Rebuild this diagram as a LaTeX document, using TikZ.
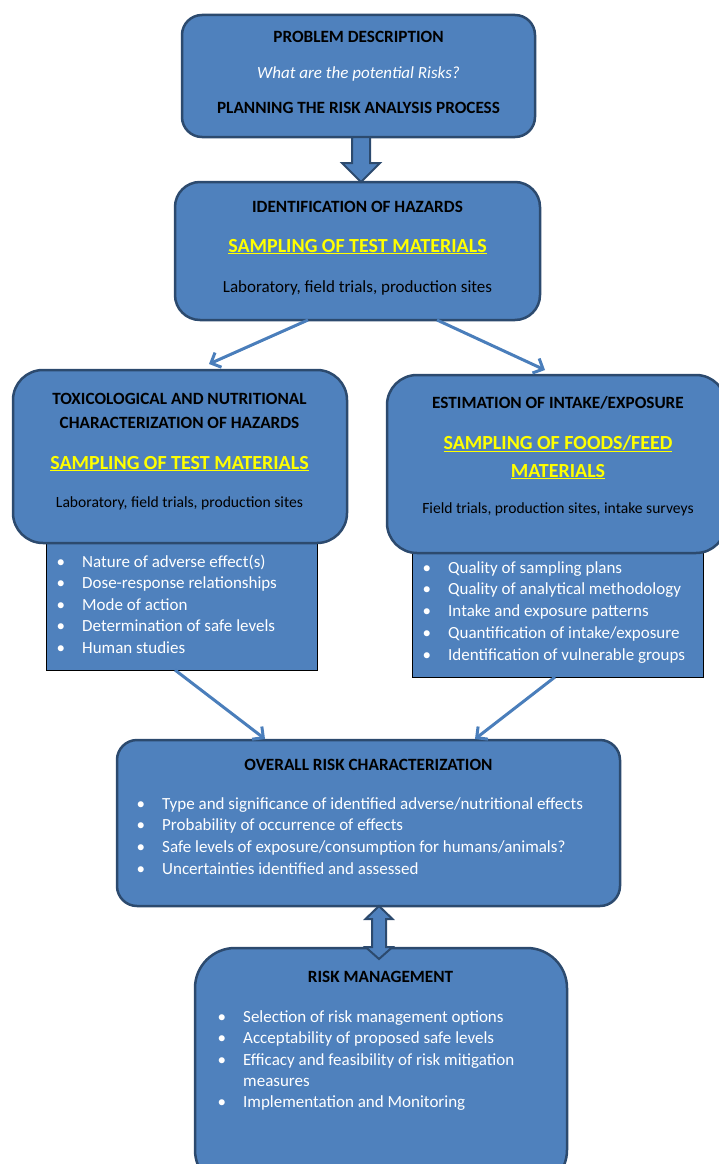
\documentclass[tikz,border=0pt]{standalone}
\usepackage{fontspec}
\setmainfont{Carlito}
\usetikzlibrary{arrows.meta,calc}
\definecolor{boxfill}{HTML}{4F81BD}
\definecolor{boxline}{HTML}{2C4A6E}
\definecolor{arrowc}{HTML}{4A7EBB}
\definecolor{ylw}{HTML}{FFFF00}
\newcommand{\yl}[1]{\underline{#1}}
\begin{document}
\begin{tikzpicture}[x=1pt,y=-1pt,
  rbox/.style={draw=boxline,line width=2.5pt,fill=boxfill,inner sep=0pt,outer sep=0pt},
  lbox/.style={draw=black,line width=1pt,fill=boxfill,inner sep=0pt,outer sep=0pt},
  ttl/.style={inner sep=0pt,anchor=base,font=\fontsize{17.2}{20}\selectfont\bfseries,text=black},
  sub/.style={inner sep=0pt,anchor=base,font=\fontsize{17}{20}\selectfont,text=black},
  hot/.style={inner sep=0pt,anchor=base,font=\fontsize{20}{24}\selectfont\bfseries,text=ylw},
  item/.style={inner sep=0pt,anchor=base west,font=\fontsize{17}{20}\selectfont,text=white},
  flow/.style={draw=arrowc,line width=3pt,-{Straight Barb[length=8pt,width=16pt]}},
  blockarrow/.style={draw=boxline,line width=2pt,fill=boxfill,line join=miter}
]
\useasboundingbox (0,0) rectangle (718,1164);

% list rectangles (behind)
\node[lbox,minimum width=271pt,minimum height=150pt] (l3) at (181.5,595) {};
\node[lbox,minimum width=291pt,minimum height=147pt] (l4) at (557.5,603.5) {};

% rounded boxes
\node[rbox,rounded corners=20pt,minimum width=353pt,minimum height=122pt] (b1) at (358.5,76) {};
\node[rbox,rounded corners=25pt,minimum width=365pt,minimum height=138pt] (b2) at (357.5,251) {};
\node[rbox,rounded corners=30pt,minimum width=334pt,minimum height=173pt] (b3) at (180,456.5) {};
\node[rbox,rounded corners=30pt,minimum width=339pt,minimum height=178pt] (b4) at (556.5,464) {};
\node[rbox,rounded corners=20pt,minimum width=503pt,minimum height=166pt] (b5) at (368.5,823) {};
\node[rbox,rounded corners=40pt,minimum width=372pt,minimum height=242pt] (b6) at (381,1069) {};

% box 1
\node[ttl] (t1a) at (358.5,43) {PROBLEM DESCRIPTION};
\node[sub,text=white,font=\fontsize{17}{20}\selectfont\itshape] (t1b) at (358.5,78) {What are the potential Risks?};
\node[ttl] (t1c) at (358.5,113) {PLANNING THE RISK ANALYSIS PROCESS};

% box 2
\node[ttl] (t2a) at (357.5,212) {IDENTIFICATION OF HAZARDS};
\node[hot] (t2b) at (357.5,252) {\yl{SAMPLING OF TEST MATERIALS}};
\node[sub] (t2c) at (357.5,292) {Laboratory, field trials, production sites};

% box 3
\node[ttl] (t3a) at (179.5,404) {TOXICOLOGICAL AND NUTRITIONAL};
\node[ttl] (t3b) at (179.5,428) {CHARACTERIZATION OF HAZARDS};
\node[hot] (t3c) at (179.5,469) {\yl{SAMPLING OF TEST MATERIALS}};
\node[sub,font=\fontsize{15.6}{19}\selectfont] (t3d) at (179.5,507) {Laboratory, field trials, production sites};

% box 4
\node[ttl] (t4a) at (558,408) {ESTIMATION OF INTAKE/EXPOSURE};
\node[hot] (t4b) at (558,449) {\yl{SAMPLING OF FOODS/FEED}};
\node[hot] (t4c) at (558,477) {\yl{MATERIALS}};
\node[sub,font=\fontsize{15.6}{19}\selectfont] (t4d) at (558,513) {Field trials, production sites, intake surveys};

% list of box 3
\foreach \t [count=\i] in {Nature of adverse effect(s),Dose-response relationships,Mode of action,Determination of safe levels,Human studies}
  \node[item] (la\i) at (82,{567+21.5*(\i-1)}) {\llap{•\hspace{17pt}}\t};

% list of box 4
\foreach \t [count=\i] in {Quality of sampling plans,Quality of analytical methodology,Intake and exposure patterns,Quantification of intake/exposure,Identification of vulnerable groups}
  \node[item] (lb\i) at (448,{573+21.75*(\i-1)}) {\llap{•\hspace{17pt}}\t};

% box 5
\node[ttl] (t5a) at (368.5,770) {OVERALL RISK CHARACTERIZATION};
\foreach \t [count=\i] in {Type and significance of identified adverse/nutritional effects,Probability of occurrence of effects,Safe levels of exposure/consumption for humans/animals?,Uncertainties identified and assessed}
  \node[item] (lc\i) at (162,{809+21.7*(\i-1)}) {\llap{•\hspace{17pt}}\t};

% box 6
\node[ttl] (t6a) at (380.5,982) {RISK MANAGEMENT};
\node[item] (ld1) at (243,1022) {\llap{•\hspace{17pt}}Selection of risk management options};
\node[item] (ld2) at (243,1043.5) {\llap{•\hspace{17pt}}Acceptability of proposed safe levels};
\node[item] (ld3) at (243,1065) {\llap{•\hspace{17pt}}Efficacy and feasibility of risk mitigation};
\node[item] (ld3b) at (243,1086) {measures};
\node[item] (ld4) at (243,1107.5) {\llap{•\hspace{17pt}}Implementation and Monitoring};

% block arrow b1 -> b2
\coordinate (a1) at ($(b1.south)+(2.5,0)$);
\path[blockarrow] ($(a1)+(-9,0)$) -- ($(a1)+(9,0)$) -- ($(a1)+(9,26)$) -- ($(a1)+(19,26)$)
  -- (a1 |- b2.north) -- ($(a1)+(-19,26)$) -- ($(a1)+(-9,26)$) -- cycle;

% thin arrows
\draw[flow] ($(b2.south west)+(133,0)$) -- ($(b3.north west)+(196,-6)$);
\draw[flow] ($(b2.south west)+(262,0)$) -- ($(b4.north west)+(158,-5)$);
\draw[flow] ($(l3.south west)+(129,0)$) -- ($(b5.north west)+(148,-1)$);
\draw[flow] ($(l4.south west)+(143,0)$) -- ($(b5.north west)+(358,-1)$);

% double block arrow b5 <-> b6
\coordinate (a2) at ($(b5.south west)+(262,0)$);
\coordinate (a3) at ($(a2)+(0,53)$);
\path[blockarrow] (a2) -- ($(a2)+(13.5,13)$) -- ($(a2)+(7,13)$) -- ($(a3)+(7,-12)$) -- ($(a3)+(13.5,-12)$)
  -- (a3) -- ($(a3)+(-13.5,-12)$) -- ($(a3)+(-7,-12)$) -- ($(a2)+(-7,13)$) -- ($(a2)+(-13.5,13)$) -- cycle;
\end{tikzpicture}
\end{document}
